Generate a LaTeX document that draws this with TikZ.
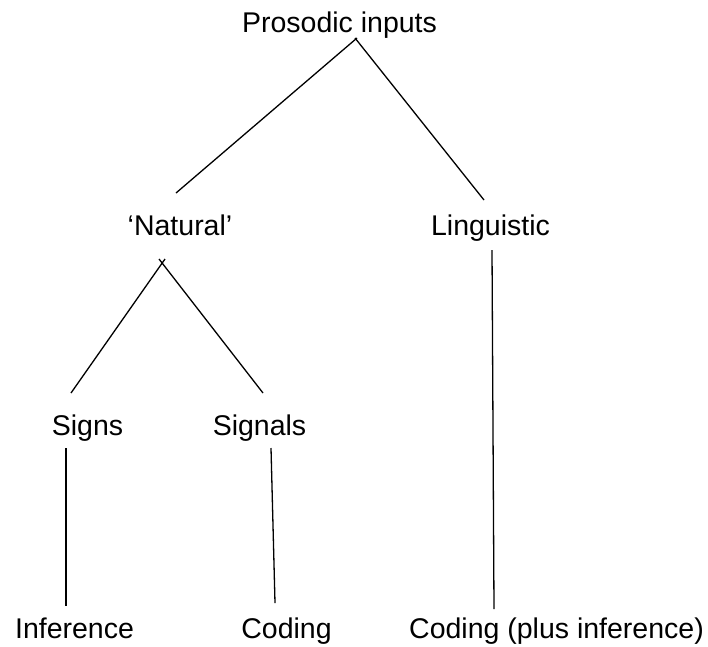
\documentclass[tikz,border=0pt]{standalone}
\usepackage{fontspec}
\setmainfont{Liberation Sans}
\begin{document}
\begin{tikzpicture}[x=1pt,y=-1pt,
  lbl/.style={anchor=base,inner sep=0pt,font=\fontsize{28.5}{34}\selectfont},
  conn/.style={line width=1.3pt,black}]
\useasboundingbox (0,0) rectangle (708,646);
% labels
\node[lbl] (pros) at (339.5,32) {Prosodic inputs};
\node[lbl] (nat) at (180,235) {‘Natural’};
\node[lbl] (ling) at (490.5,235) {Linguistic};
\node[lbl] (signs) at (87.5,435) {Signs};
\node[lbl] (signals) at (259.5,435) {Signals};
\node[lbl] (inf) at (74.5,638) {Inference};
\node[lbl] (cod) at (286.5,638) {Coding};
\node[lbl] (codplus) at (556.5,638) {Coding (plus inference)};
% connector end points
\coordinate (prosA) at (357,38);
\coordinate (prosB) at (355,38);
\coordinate (natTop) at (176,193);
\coordinate (lingTop) at (484,200);
\coordinate (natL) at (165,259);
\coordinate (natR) at (159,259);
\coordinate (signsTop) at (71,393);
\coordinate (signalsTop) at (263,393);
\coordinate (lingBot) at (492,250);
\coordinate (codplusTop) at (494,609);
\coordinate (signsBot) at (66,448);
\coordinate (infTop) at (66,606);
\coordinate (signalsBot) at (271,448);
\coordinate (codTop) at (275,603);
% connectors
\draw[conn] (prosA) -- (natTop);
\draw[conn] (prosB) -- (lingTop);
\draw[conn] (natL) -- (signsTop);
\draw[conn] (natR) -- (signalsTop);
\draw[conn] (lingBot) -- (codplusTop);
\draw[conn] (signsBot) -- (infTop);
\draw[conn] (signalsBot) -- (codTop);
\end{tikzpicture}
\end{document}
